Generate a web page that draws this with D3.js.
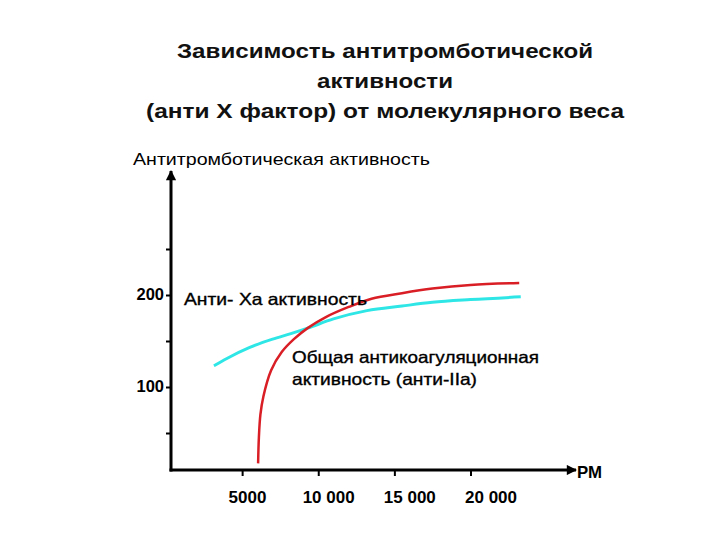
<!DOCTYPE html>
<html><head><meta charset="utf-8">
<script src="https://cdn.jsdelivr.net/npm/d3@7"></script>
<style>body{margin:0;background:#fff}svg{font-family:Arial,"Liberation Sans",sans-serif}</style>
</head><body>
<svg id="c" width="720" height="540"></svg>
<script>
const titleLines = ["Зависимость антитромботической", "активности", "(анти Х фактор) от молекулярного веса"];
const yAxisTitle = "Антитромботическая активность";
const xAxisTitle = "РМ";
const xTicks = [5000, 10000, 15000, 20000];
const xTickLabels = ["5000", "10 000", "15 000", "20 000"];
const yTicks = [50, 100, 150, 200, 250];
const yTickLabels = ["", "100", "", "200", ""];
// red: total anticoagulant activity (anti-IIa)
const redMW  = [6050, 6100, 6200, 6400, 6900, 7600, 8400, 9300, 10500, 12000, 13500, 15500, 17500, 20000, 23200];
const redVal = [17,   45,   70,   90,   118,  138,  152,  164,  176,   187,   196,   202,   207,   211,   213];
// cyan: anti-Xa activity
const cyanMW  = [3150, 4000, 5500, 7000, 8200, 9300, 11000, 13200, 15500, 17500, 20000, 23300];
const cyanVal = [123,  131,  143,  152,  158,  164,  174,   183,   188,   192,   195,   198];
const redLabel = "Анти- Ха активность";
const cyanLabel = ["Общая антикоагуляционная", "активность (анти-IIa)"];

const svg = d3.select("#c");
const x = d3.scaleLinear().domain([0, 20000]).range([166, 470.5]);
const xLab = d3.scaleLinear().domain([5000, 20000]).range([247.5, 491]);
const y = d3.scaleLinear().domain([100, 200]).range([387, 295]);
const x0 = 171, y0 = 470;

function fit(sel, w) { sel.attr("textLength", w).attr("lengthAdjust", "spacingAndGlyphs"); }

// title
const titleW = [416, 136, 478];
svg.append("g").selectAll("text").data(titleLines).join("text")
  .attr("x", 385).attr("y", (d,i)=>58 + i*30).attr("text-anchor","middle")
  .attr("font-size", 21).attr("font-weight","bold").attr("fill","#111")
  .attr("textLength",(d,i)=>titleW[i]).attr("lengthAdjust","spacingAndGlyphs").text(d=>d);

const defs = svg.append("defs");
defs.append("marker").attr("id","arr").attr("viewBox","0 0 10 10").attr("refX",9).attr("refY",5)
  .attr("markerWidth",4).attr("markerHeight",3.4).attr("markerUnits","strokeWidth").attr("orient","auto")
  .append("path").attr("d","M0,0L10,5L0,10z").attr("fill","#000");

// y axis ticks
const yAxis = d3.axisLeft(y).tickValues(yTicks).tickFormat((d,i)=>yTickLabels[i]).tickSize(5).tickPadding(2);
const gy = svg.append("g").attr("transform",`translate(${x0},0)`).call(yAxis);
gy.select(".domain").remove();
gy.selectAll(".tick line").attr("stroke","#000").attr("stroke-width",2);
gy.selectAll(".tick text").attr("font-size",16.5).attr("font-weight","bold").attr("fill","#000")
  .attr("font-family","Arial").attr("dy","0.3em");

// x axis ticks (labels drawn slightly offset as in the original)
const xAxis = d3.axisBottom(x).tickValues(xTicks).tickFormat("").tickSize(6);
const gx = svg.append("g").attr("transform",`translate(0,${y0})`).call(xAxis);
gx.select(".domain").remove();
gx.selectAll(".tick line").attr("stroke","#000").attr("stroke-width",2);
svg.append("g").selectAll("text").data(xTicks).join("text")
  .attr("x", d=>xLab(d)).attr("y", 503).attr("text-anchor","middle")
  .attr("font-size",17).attr("font-weight","bold").attr("fill","#000").text((d,i)=>xTickLabels[i]);

svg.append("line").attr("x1",x0).attr("y1",y0+1.5).attr("x2",x0).attr("y2",171)
  .attr("stroke","#000").attr("stroke-width",3).attr("marker-end","url(#arr)");
svg.append("line").attr("x1",x0-1.5).attr("y1",y0).attr("x2",576).attr("y2",y0)
  .attr("stroke","#000").attr("stroke-width",3).attr("marker-end","url(#arr)");

svg.append("text").attr("x",133).attr("y",165).attr("font-size",16.5).attr("fill","#000")
  .call(fit, 297).text(yAxisTitle);
svg.append("text").attr("x",577).attr("y",478).attr("font-size",16.5).attr("font-weight","bold").attr("fill","#000")
  .call(fit, 25).text(xAxisTitle);

const line = d3.line().x(d=>x(d[0])).y(d=>y(d[1])).curve(d3.curveMonotoneX);
svg.append("path").datum(cyanMW.map((m,i)=>[m,cyanVal[i]])).attr("d",line)
  .attr("fill","none").attr("stroke","#2ee6e6").attr("stroke-width",3);
const lineR = d3.line().x(d=>x(d[0])).y(d=>y(d[1])).curve(d3.curveCatmullRom);
svg.append("path").datum(redMW.map((m,i)=>[m,redVal[i]])).attr("d",lineR)
  .attr("fill","none").attr("stroke","#d91e26").attr("stroke-width",2.5);

svg.append("text").attr("x",184).attr("y",305).attr("font-size",16.5).attr("fill","#000")
  .attr("stroke","#000").attr("stroke-width",0.35).call(fit, 183).text(redLabel);
const cyanW = [247, 185];
svg.append("g").selectAll("text").data(cyanLabel).join("text")
  .attr("x",292).attr("y",(d,i)=>363+i*22).attr("font-size",16.5).attr("fill","#000")
  .attr("stroke","#000").attr("stroke-width",0.35)
  .attr("textLength",(d,i)=>cyanW[i]).attr("lengthAdjust","spacingAndGlyphs").text(d=>d);
</script>
</body></html>
